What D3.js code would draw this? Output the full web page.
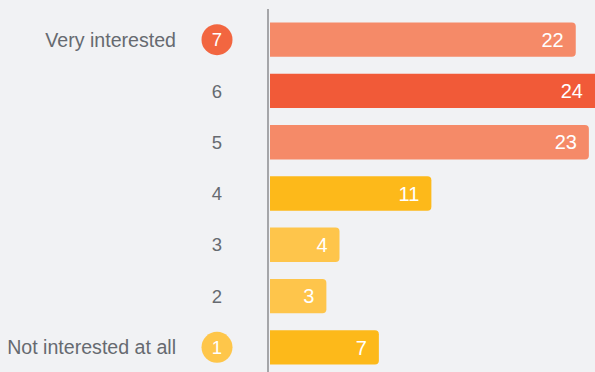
<!DOCTYPE html>
<html>
<head>
<meta charset="utf-8">
<script src="https://cdn.jsdelivr.net/npm/d3@7"></script>
<style>
  html, body { margin: 0; padding: 0; background: #f1f2f4; }
  svg { display: block; }
</style>
</head>
<body>
<svg id="chart" width="595" height="372"></svg>
<script>
// Rating scale, top to bottom
const ratings = ["7", "6", "5", "4", "3", "2", "1"];
const counts = [22, 24, 23, 11, 4, 3, 7];
const barColors = ["#f58a68", "#f15a38", "#f58a68", "#fdb91a", "#fec54b", "#fec54b", "#fdb91a"];
// Text labels attached to the end points of the scale
const endLabels = { "7": "Very interested", "1": "Not interested at all" };
const badgeColors = { "7": "#f26640", "1": "#fec64a" };

const W = 595, H = 372;
const axisX = 268;
const barX = 270;
const font = "'Liberation Sans', Arial, sans-serif";

const svg = d3.select("#chart");
svg.append("rect").attr("width", W).attr("height", H).attr("fill", "#f1f2f4");

const y = d3.scaleBand().domain(ratings).range([14, 373]).paddingInner(0.33).paddingOuter(0.165);
const x = d3.scaleLinear().domain([0, 24]).range([17, 332]);

const data = ratings.map((r, i) => ({ rating: r, count: counts[i], color: barColors[i] }));

// Bars: square on the axis side, rounded on the value side
const r = 4;
function barPath(d) {
  const x0 = barX, x1 = barX + x(d.count);
  const y0 = y(d.rating), y1 = y0 + y.bandwidth();
  return `M${x0},${y0}H${x1 - r}Q${x1},${y0} ${x1},${y0 + r}V${y1 - r}Q${x1},${y1} ${x1 - r},${y1}H${x0}Z`;
}

svg.append("g").selectAll("path").data(data).join("path")
  .attr("d", barPath)
  .attr("fill", d => d.color);

// Value labels inside bar ends
svg.append("g").selectAll("text").data(data).join("text")
  .attr("x", d => Math.min(barX + x(d.count), W) - 12)
  .attr("y", d => y(d.rating) + y.bandwidth() / 2)
  .attr("dy", "0.36em")
  .attr("text-anchor", "end")
  .attr("fill", "#ffffff")
  .attr("font-family", font)
  .attr("font-size", 20)
  .text(d => d.count);

// Vertical axis line
svg.append("line")
  .attr("x1", axisX).attr("x2", axisX)
  .attr("y1", 9).attr("y2", H)
  .attr("stroke", "#a5a6a9").attr("stroke-width", 2);

// Rating numbers, with badges on the end points
const cx = 217;
const lab = svg.append("g").selectAll("g").data(data).join("g")
  .attr("transform", d => `translate(0,${y(d.rating) + y.bandwidth() / 2})`);

lab.filter(d => badgeColors[d.rating])
  .append("circle")
  .attr("cx", cx).attr("cy", 0).attr("r", 15.5)
  .attr("fill", d => badgeColors[d.rating]);

lab.append("text")
  .attr("x", cx).attr("y", 0).attr("dy", "0.36em")
  .attr("text-anchor", "middle")
  .attr("font-family", font)
  .attr("font-size", 18.5)
  .attr("fill", d => badgeColors[d.rating] ? "#ffffff" : "#666a70")
  .text(d => d.rating);

lab.filter(d => endLabels[d.rating])
  .append("text")
  .attr("x", 176).attr("y", 0).attr("dy", "0.36em")
  .attr("text-anchor", "end")
  .attr("font-family", font)
  .attr("font-size", 19.6)
  .attr("fill", "#666a70")
  .text(d => endLabels[d.rating]);
</script>
</body>
</html>
